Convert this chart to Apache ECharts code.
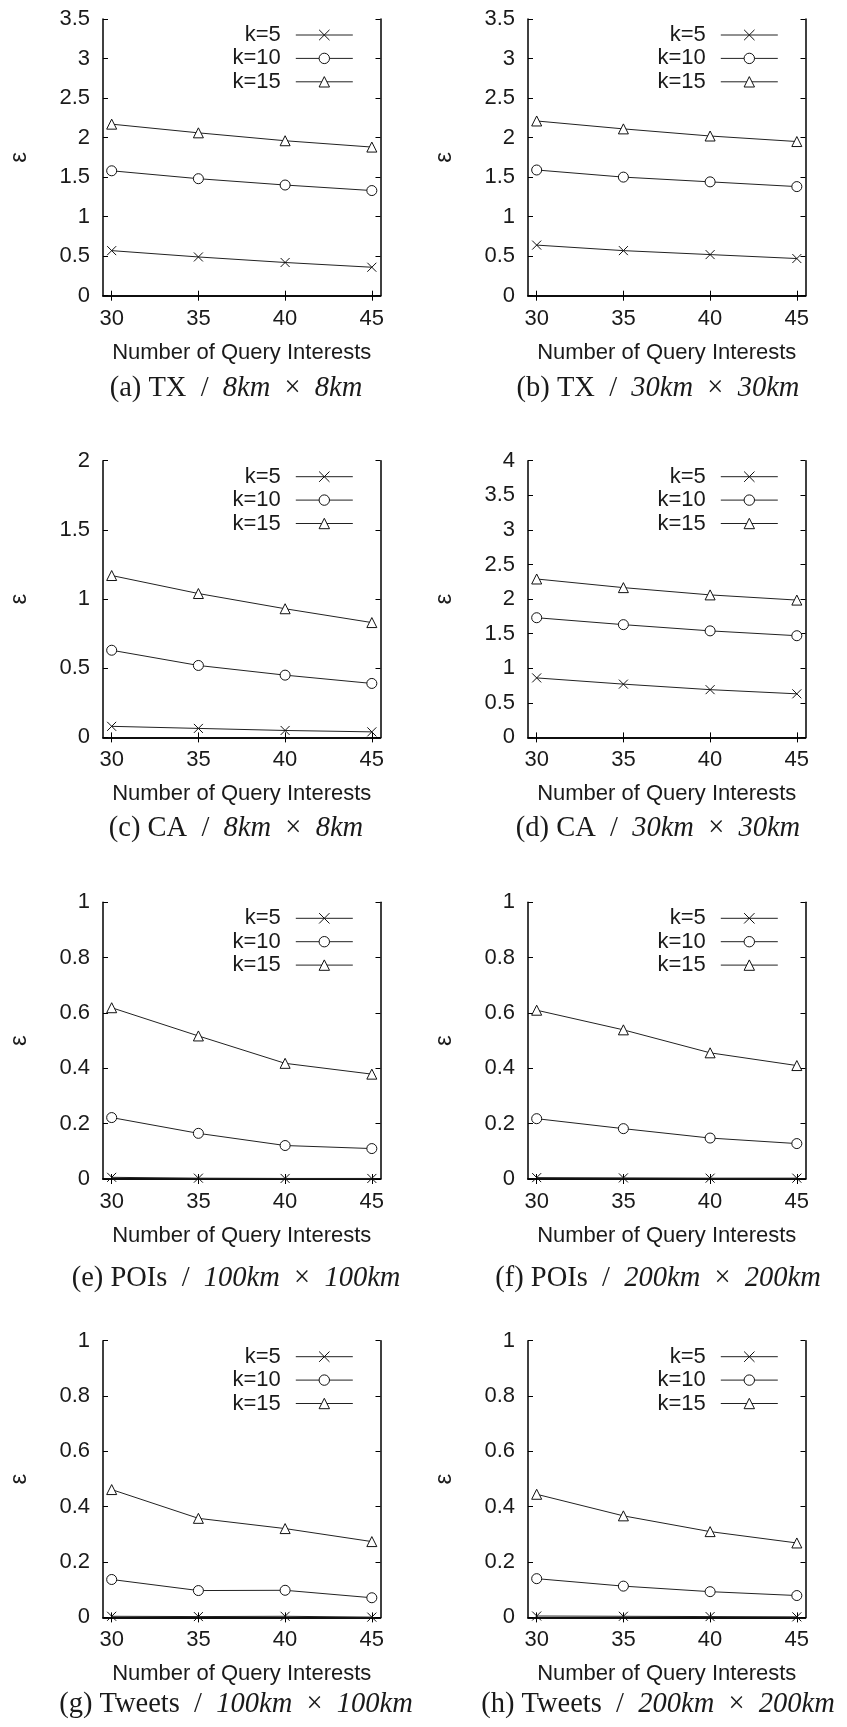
<!DOCTYPE html>
<html>
<head>
<meta charset="utf-8">
<script src="https://cdn.jsdelivr.net/npm/echarts@6/dist/echarts.min.js"></script>
<style>
  html, body { margin: 0; padding: 0; background: #fff; }
  #chart { width: 847px; height: 1727px; }
</style>
</head>
<body>
<div id="chart"></div>
<script>
// ---------- data ----------
const queryInterests = [30, 35, 40, 45];
const xTickValues = [30, 35, 40, 45];
const seriesNames = ['k=5', 'k=10', 'k=15'];

// (a) TX / 8km x 8km
const aK5  = [0.57, 0.49, 0.42, 0.36];
const aK10 = [1.58, 1.48, 1.40, 1.33];
const aK15 = [2.17, 2.06, 1.96, 1.88];
// (b) TX / 30km x 30km
const bK5  = [0.64, 0.57, 0.52, 0.47];
const bK10 = [1.59, 1.50, 1.44, 1.38];
const bK15 = [2.21, 2.11, 2.02, 1.95];
// (c) CA / 8km x 8km
const cK5  = [0.08, 0.065, 0.05, 0.04];
const cK10 = [0.63, 0.52, 0.45, 0.39];
const cK15 = [1.17, 1.04, 0.93, 0.83];
// (d) CA / 30km x 30km
const dK5  = [0.86, 0.77, 0.69, 0.63];
const dK10 = [1.73, 1.63, 1.54, 1.47];
const dK15 = [2.29, 2.165, 2.06, 1.985];
// (e) POIs / 100km x 100km
const eK5  = [0.006, 0.003, 0.002, 0.002];
const eK10 = [0.222, 0.165, 0.121, 0.110];
const eK15 = [0.619, 0.517, 0.418, 0.379];
// (f) POIs / 200km x 200km
const fK5  = [0.005, 0.004, 0.003, 0.003];
const fK10 = [0.218, 0.182, 0.148, 0.128];
const fK15 = [0.610, 0.539, 0.456, 0.410];
// (g) Tweets / 100km x 100km
const gK5  = [0.004, 0.003, 0.004, 0.001];
const gK10 = [0.137, 0.097, 0.098, 0.071];
const gK15 = [0.462, 0.358, 0.321, 0.274];
// (h) Tweets / 200km x 200km
const hK5  = [0.005, 0.004, 0.003, 0.002];
const hK10 = [0.140, 0.113, 0.093, 0.079];
const hK15 = [0.445, 0.367, 0.310, 0.269];

const panelSeries = [
  [aK5, aK10, aK15], [bK5, bK10, bK15],
  [cK5, cK10, cK15], [dK5, dK10, dK15],
  [eK5, eK10, eK15], [fK5, fK10, fK15],
  [gK5, gK10, gK15], [hK5, hK10, hK15]
];
const yMaxes = [3.5, 3.5, 2, 4, 1, 1, 1, 1];
const yIntervals = [0.5, 0.5, 0.5, 0.5, 0.2, 0.2, 0.2, 0.2];
const captionLabels = ['(a)', '(b)', '(c)', '(d)', '(e)', '(f)', '(g)', '(h)'];
const captionDatasets = ['TX', 'TX', 'CA', 'CA', 'POIs', 'POIs', 'Tweets', 'Tweets'];
const captionSizes = ['8km', '30km', '8km', '30km', '100km', '200km', '100km', '200km'];
const xAxisTitle = 'Number of Query Interests';
const yAxisTitle = 'ε';

// ---------- layout ----------
const colLeft = [103, 528];
const rowTop = [19, 460.7, 902.3, 1340.7];
const captionY = [389, 829, 1279, 1705];
const plotW = 277.5;
const plotH = 276.7;
const captionX = [236, 658];
const legendRightEdge = [353.3, 778.3];
const W = 847;

const INK = '#1a1a1a';
const SANS = '"Liberation Sans", Arial, sans-serif';
const SERIF = '"Liberation Serif", "Times New Roman", serif';
const symbols = ['path://M0,0L10,10M0,10L10,0', 'circle', 'triangle'];

const grid = [], xAxis = [], yAxis = [], series = [], legend = [], graphic = [];

const axisLineStyle = { show: true, lineStyle: { color: '#000', width: 1.5 } };

panelSeries.forEach((triple, i) => {
  const col = i % 2, row = Math.floor(i / 2);
  const top = rowTop[row], left = colLeft[col];
  grid.push({ left: left, top: top, width: plotW, height: plotH, outerBoundsMode: 'none', containLabel: false });

  const xBase = {
    gridIndex: i, type: 'value', min: 29.5, max: 45.5,
    axisLine: axisLineStyle,
    splitLine: { show: false },
    axisTick: { show: true, inside: true, length: 5, customValues: xTickValues, lineStyle: { color: '#000', width: 1 } }
  };
  xAxis.push(Object.assign({}, xBase, {
    position: 'bottom',
    axisLabel: { show: true, customValues: xTickValues, margin: 12, fontSize: 22, fontFamily: SANS, color: INK },
    name: xAxisTitle, nameLocation: 'middle', nameGap: 46,
    nameTextStyle: { fontSize: 22, fontFamily: SANS, color: INK }
  }));
  xAxis.push(Object.assign({}, xBase, { position: 'top', axisLabel: { show: false } }));

  const yBase = {
    gridIndex: i, type: 'value', min: 0, max: yMaxes[i], interval: yIntervals[i],
    axisLine: axisLineStyle,
    splitLine: { show: false },
    axisTick: { show: true, inside: true, length: 5, lineStyle: { color: '#000', width: 1 } }
  };
  yAxis.push(Object.assign({}, yBase, {
    position: 'left',
    axisLabel: { show: true, margin: 13, fontSize: 22, fontFamily: SANS, color: INK },
    name: yAxisTitle, nameLocation: 'middle', nameGap: 72, nameRotate: 90,
    nameTextStyle: { fontSize: 24, fontFamily: SANS, color: INK }
  }));
  yAxis.push(Object.assign({}, yBase, { position: 'right', axisLabel: { show: false } }));

  triple.forEach((vals, s) => {
    series.push({
      type: 'line', name: seriesNames[s],
      xAxisIndex: 2 * i, yAxisIndex: 2 * i,
      data: queryInterests.map((x, k) => [x, vals[k]]),
      symbol: symbols[s], symbolSize: s === 0 ? 9 : 10,
      showAllSymbol: true,
      lineStyle: { color: '#222', width: 1 },
      itemStyle: { color: '#fff', borderColor: '#111', borderWidth: 1 },
      emphasis: { disabled: true },
      animation: false, z: 3
    });
  });

  legend.push({
    data: seriesNames, orient: 'vertical', align: 'right',
    right: W - legendRightEdge[col], top: top + 5,
    padding: 0, itemWidth: 57, itemHeight: 13, itemGap: 1.4,
    selectedMode: false,
    lineStyle: { width: 1, color: '#222' },
    itemStyle: { borderWidth: 1, borderColor: '#111', color: '#fff' },
    textStyle: { fontSize: 22, fontFamily: SANS, color: INK, padding: [0, 10, 0, 0] }
  });

  graphic.push({
    type: 'text', x: captionX[col], y: captionY[row],
    style: {
      text: captionLabels[i] + ' ' + captionDatasets[i] + '  /  {i|' + captionSizes[i] + '}  ×  {i|' + captionSizes[i] + '}',
      fontSize: 28.5, fontFamily: SERIF, fill: INK,
      align: 'center', verticalAlign: 'middle',
      rich: { i: { fontStyle: 'italic', fontSize: 28.5, fontFamily: SERIF, fill: INK } }
    }
  });
});

const chart = echarts.init(document.getElementById('chart'), null, { renderer: 'canvas' });
chart.setOption({
  backgroundColor: '#fff',
  animation: false,
  tooltip: { show: false },
  grid, xAxis, yAxis, series, legend, graphic
});
</script>
</body>
</html>
